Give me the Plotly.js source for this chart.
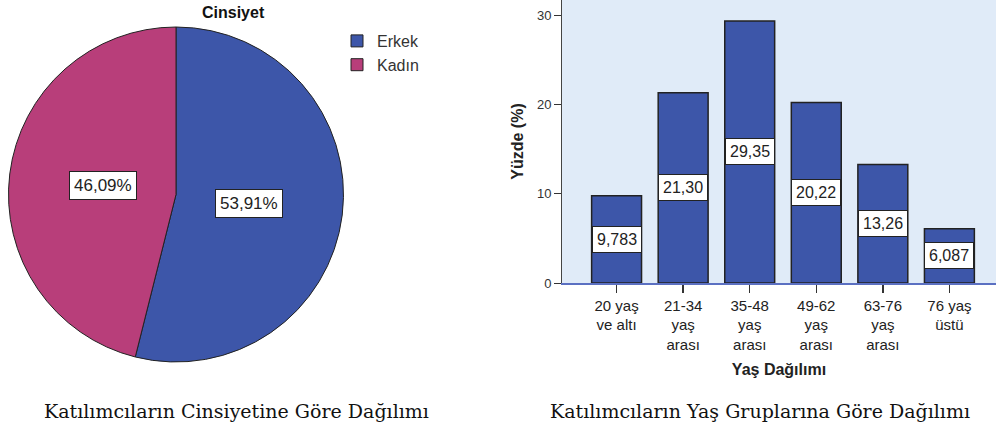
<!DOCTYPE html>
<html>
<head>
<meta charset="utf-8">
<script src="https://cdn.plot.ly/plotly-3.0.1.min.js"></script>
<style>html,body{margin:0;padding:0;background:#fff;}#chart{width:996px;height:432px;}</style>
</head>
<body>
<div id="chart"></div>
<script>
// ---- data ----
const genderLabels = ['Erkek', 'Kadın'];
const genderValues = [53.91, 46.09];
const genderColors = ['#3d56a9', '#b83e7a'];

const ageCategories = ['20 yaş<br>ve altı', '21-34<br>yaş<br>arası', '35-48<br>yaş<br>arası', '49-62<br>yaş<br>arası', '63-76<br>yaş<br>arası', '76 yaş<br>üstü'];
const ageValues = [9.783, 21.30, 29.35, 20.22, 13.26, 6.087];
const yTicks = [0, 10, 20, 30];

const pieTitle = 'Cinsiyet';
const captionLeft = 'Katılımcıların Cinsiyetine Göre Dağılımı';
const captionRight = 'Katılımcıların Yaş Gruplarına Göre Dağılımı';
const xTitle = 'Yaş Dağılımı';
const yTitle = 'Yüzde (%)';

// ---- layout helpers ----
const W = 996, H = 432;
const pieDom = {x: [8 / W, 344 / W], y: [1 - 362 / H, 1 - 27 / H]};
const sans = 'Liberation Sans, Arial, sans-serif';
const serif = 'DejaVu Serif, serif';
const fmt = v => v.toPrecision(4).replace('.', ',');

// pie label annotations computed from data
const pcx = (pieDom.x[0] + pieDom.x[1]) / 2;
const pcy = (pieDom.y[0] + pieDom.y[1]) / 2;
const rPx = Math.min((pieDom.x[1] - pieDom.x[0]) * W, (pieDom.y[1] - pieDom.y[0]) * H) / 2;
const total = genderValues.reduce((a, b) => a + b, 0);
const annotations = [];
let cum = 0;
genderValues.forEach((v, i) => {
  const mid = (cum + v / 2) / total * 2 * Math.PI; // clockwise from top
  cum += v;
  const rr = rPx * 0.44;
  annotations.push({
    xref: 'paper', yref: 'paper', xanchor: 'center', yanchor: 'middle',
    x: pcx + Math.sin(mid) * rr / W,
    y: pcy + Math.cos(mid) * rr / H,
    text: v.toFixed(2).replace('.', ',') + '%',
    showarrow: false,
    font: {family: sans, size: 17, color: '#222'},
    bgcolor: '#ffffff', bordercolor: '#222', borderwidth: 1, borderpad: 4
  });
});

// bar labels
ageCategories.forEach((c, i) => {
  annotations.push({
    xref: 'x', yref: 'y', x: c, y: ageValues[i] / 2, xanchor: 'center', yanchor: 'middle',
    text: fmt(ageValues[i]), showarrow: false,
    font: {family: sans, size: 16, color: '#222'},
    bgcolor: '#ffffff', bordercolor: '#222', borderwidth: 1, borderpad: 4
  });
});

annotations.push({xref: 'paper', yref: 'paper', x: 233 / W, y: 1 - 13 / H, xanchor: 'center', yanchor: 'middle',
  text: '<b>' + pieTitle + '</b>', showarrow: false, font: {family: sans, size: 16, color: '#111'}});
annotations.push({xref: 'paper', yref: 'paper', x: 236 / W, y: 1 - 411 / H, xanchor: 'center', yanchor: 'middle',
  text: captionLeft, showarrow: false, font: {family: serif, size: 19, color: '#111'}});
annotations.push({xref: 'paper', yref: 'paper', x: 760 / W, y: 1 - 411 / H, xanchor: 'center', yanchor: 'middle',
  text: captionRight, showarrow: false, font: {family: serif, size: 19, color: '#111'}});

const traces = [
  {
    type: 'pie', labels: genderLabels, values: genderValues,
    sort: false, direction: 'clockwise', rotation: 0,
    textinfo: 'none', hoverinfo: 'none',
    marker: {colors: genderColors, line: {color: '#222', width: 1}},
    domain: pieDom, showlegend: true
  },
  {
    type: 'bar', x: ageCategories, y: ageValues,
    width: 0.75, showlegend: false, hoverinfo: 'none',
    marker: {color: '#3d56a9', line: {color: '#222', width: 1.5}},
    xaxis: 'x', yaxis: 'y'
  }
];

const layout = {
  width: W, height: H,
  margin: {l: 0, r: 0, t: 0, b: 0},
  paper_bgcolor: '#ffffff',
  plot_bgcolor: '#e0ebf8',
  font: {family: sans, color: '#222'},
  showlegend: true,
  legend: {x: 337 / W, y: 1 - 24 / H, xanchor: 'left', yanchor: 'top',
    font: {family: sans, size: 16, color: '#333'}, bgcolor: 'rgba(0,0,0,0)', tracegroupgap: 0},
  xaxis: {
    domain: [562 / W, 1], range: [-0.82, 5.7], type: 'category',
    showgrid: false, zeroline: false, showline: true, linecolor: '#5b70c2', linewidth: 1.5, mirror: true,
    ticks: 'outside', ticklen: 8, tickcolor: '#333', tickwidth: 1.5,
    tickfont: {family: sans, size: 15, color: '#222'},
    title: {text: '<b>' + xTitle + '</b>', font: {family: sans, size: 16, color: '#222'}, standoff: 12}
  },
  yaxis: {
    domain: [1 - 283 / H, 1], range: [0, 31.7],
    tickvals: yTicks, ticktext: yTicks.map(String),
    showgrid: false, zeroline: false, showline: true, linecolor: '#444', linewidth: 1,
    ticks: 'outside', ticklen: 7, tickcolor: '#333',
    tickfont: {family: sans, size: 13, color: '#333'},
    title: {text: '<b>' + yTitle + '</b>', font: {family: sans, size: 16, color: '#222'}, standoff: 9}
  },
  annotations: annotations
};

Plotly.newPlot('chart', traces, layout, {staticPlot: true, displayModeBar: false});
</script>
</body>
</html>
